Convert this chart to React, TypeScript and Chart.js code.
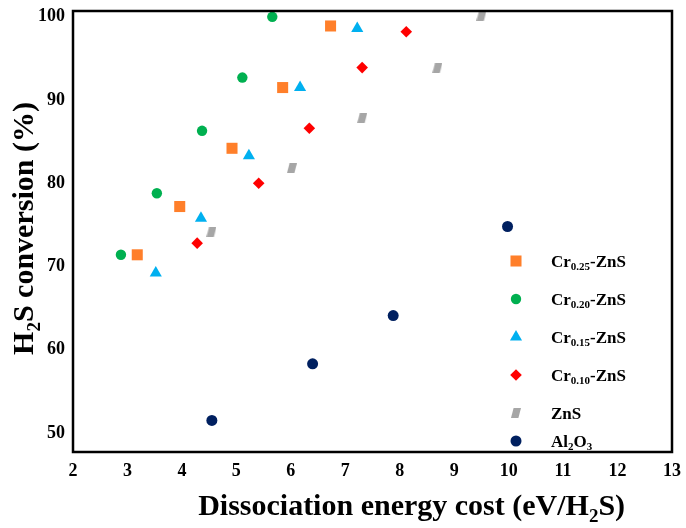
import React, { useEffect, useRef } from 'react';
import { Chart, registerables } from 'chart.js';
import { drawPoint } from 'chart.js/helpers';

Chart.register(...registerables);

// ---- data ----
const xTicks = [2, 3, 4, 5, 6, 7, 8, 9, 10, 11, 12, 13];
const yTicks = [50, 60, 70, 80, 90, 100];

const seriesLabels = ['Cr_{0.25}-ZnS', 'Cr_{0.20}-ZnS', 'Cr_{0.15}-ZnS', 'Cr_{0.10}-ZnS', 'ZnS', 'Al_{2}O_{3}'];

const cr025X = [3.18, 3.96, 4.92, 5.85, 6.73];
const cr025Y = [71.4, 77.2, 84.2, 91.5, 98.9];
const cr020X = [2.88, 3.54, 4.37, 5.11, 5.66];
const cr020Y = [71.4, 78.8, 86.3, 92.7, 100.0];
const cr015X = [3.52, 4.35, 5.23, 6.17, 7.22];
const cr015Y = [69.2, 75.8, 83.3, 91.5, 98.6];
const cr010X = [4.28, 5.41, 6.34, 7.31, 8.12];
const cr010Y = [72.8, 80.0, 86.6, 93.9, 98.2];
const znsX = [4.54, 6.02, 7.31, 8.69, 9.5];
const znsY = [74.1, 81.8, 87.8, 93.8, 100.1];
const al2o3X = [4.55, 6.4, 7.88, 9.98];
const al2o3Y = [51.5, 58.3, 64.1, 74.8];

const FONT = '"Liberation Serif", "Times New Roman", serif';

function zip(xs: number[], ys: number[]) {
  return xs.map((x, i) => ({ x, y: ys[i] }));
}

function makeParallelogram(): HTMLCanvasElement {
  const c = document.createElement('canvas');
  c.width = 10;
  c.height = 10;
  const g = c.getContext('2d')!;
  g.fillStyle = '#A6A6A6';
  g.beginPath();
  g.moveTo(2.6, 0);
  g.lineTo(10, 0);
  g.lineTo(7.4, 10);
  g.lineTo(0, 10);
  g.closePath();
  g.fill();
  return c;
}

function parseRich(s: string) {
  const parts: { t: string; sub: boolean }[] = [];
  const re = /_\{([^}]*)\}/g;
  let last = 0;
  let m: RegExpExecArray | null;
  while ((m = re.exec(s))) {
    if (m.index > last) parts.push({ t: s.slice(last, m.index), sub: false });
    parts.push({ t: m[1], sub: true });
    last = re.lastIndex;
  }
  if (last < s.length) parts.push({ t: s.slice(last), sub: false });
  return parts;
}

function drawRich(ctx: CanvasRenderingContext2D, s: string, x: number, y: number, size: number, align: 'left' | 'center') {
  const parts = parseRich(s);
  const mainF = `bold ${size}px ${FONT}`;
  const subF = `bold ${Math.round(size * 0.62)}px ${FONT}`;
  let w = 0;
  for (const p of parts) {
    ctx.font = p.sub ? subF : mainF;
    w += ctx.measureText(p.t).width;
  }
  let cx = align === 'center' ? x - w / 2 : x;
  ctx.textAlign = 'left';
  ctx.textBaseline = 'alphabetic';
  for (const p of parts) {
    ctx.font = p.sub ? subF : mainF;
    ctx.fillText(p.t, cx, y + (p.sub ? size * 0.22 : 0));
    cx += ctx.measureText(p.t).width;
  }
}

// legend layout (row centres)
const legendRowY = [261, 299, 337, 375, 413, 441];

const decorPlugin = {
  id: 'decor',
  afterDraw(chart: any) {
    const { ctx, chartArea: a } = chart;
    ctx.save();
    // frame
    ctx.lineWidth = 2.5;
    ctx.strokeStyle = '#000';
    ctx.strokeRect(a.left, a.top, a.right - a.left, a.bottom - a.top);
    ctx.fillStyle = '#000';
    // x title
    drawRich(ctx, 'Dissociation energy cost (eV/H_{2}S)', chart.width * 0.6, 515, 30, 'center');
    // y title
    ctx.save();
    ctx.translate(33, (a.top + a.bottom) / 2 - 3);
    ctx.rotate(-Math.PI / 2);
    drawRich(ctx, 'H_{2}S conversion (%)', 0, 0, 30, 'center');
    ctx.restore();
    // legend
    const symX = a.right - 156;
    const textX = a.right - 121;
    chart.data.datasets.forEach((ds: any, i: number) => {
      const y = legendRowY[i];
      ctx.save();
      ctx.fillStyle = ds.backgroundColor;
      drawPoint(ctx, { pointStyle: ds.pointStyle, radius: ds.pointRadius, rotation: 0, borderWidth: 0 } as any, symX, y);
      ctx.restore();
      ctx.fillStyle = '#000';
      drawRich(ctx, seriesLabels[i], textX, y + 5.5, 17, 'left');
    });
    ctx.restore();
  },
};

export default function App() {
  const ref = useRef<HTMLCanvasElement>(null);
  useEffect(() => {
    if (!ref.current) return;
    const para = makeParallelogram();
    const chart = new Chart(ref.current, {
      type: 'scatter',
      data: {
        datasets: [
          { label: 'Cr0.25-ZnS', data: zip(cr025X, cr025Y), pointStyle: 'rect', pointRadius: 7.8, backgroundColor: '#FF7F2A', borderWidth: 0 },
          { label: 'Cr0.20-ZnS', data: zip(cr020X, cr020Y), pointStyle: 'circle', pointRadius: 5.2, backgroundColor: '#00B050', borderWidth: 0 },
          { label: 'Cr0.15-ZnS', data: zip(cr015X, cr015Y), pointStyle: 'triangle', pointRadius: 7, backgroundColor: '#00B0F0', borderWidth: 0 },
          { label: 'Cr0.10-ZnS', data: zip(cr010X, cr010Y), pointStyle: 'rectRot', pointRadius: 5.8, backgroundColor: '#FF0000', borderWidth: 0 },
          { label: 'ZnS', data: zip(znsX, znsY), pointStyle: para as any, pointRadius: 5, backgroundColor: '#A6A6A6', borderWidth: 0 },
          { label: 'Al2O3', data: zip(al2o3X, al2o3Y), pointStyle: 'circle', pointRadius: 5.5, backgroundColor: '#002060', borderWidth: 0 },
        ] as any,
      },
      options: {
        animation: false,
        responsive: false,
        devicePixelRatio: 1,
        layout: { padding: { top: 11, right: 14, left: 0, bottom: 0 } },
        plugins: { legend: { display: false }, tooltip: { enabled: false }, title: { display: false } },
        scales: {
          x: {
            type: 'linear',
            min: 2,
            max: 13,
            grid: { display: false, drawTicks: false },
            border: { display: false },
            afterBuildTicks: (s: any) => { s.ticks = xTicks.map((v) => ({ value: v })); },
            afterFit: (s: any) => { s.height = 76; s.paddingLeft = 0; s.paddingRight = 0; s.paddingTop = 0; s.paddingBottom = 0; },
            ticks: { padding: 9, color: '#000', font: { family: FONT, weight: 'bold', size: 18 } },
          },
          y: {
            type: 'linear',
            min: 47.7,
            max: 100.7,
            grid: { display: false, drawTicks: false },
            border: { display: false },
            afterBuildTicks: (s: any) => { s.ticks = yTicks.map((v) => ({ value: v })); },
            afterFit: (s: any) => { s.width = 73; s.paddingLeft = 0; s.paddingRight = 0; s.paddingTop = 0; s.paddingBottom = 0; },
            ticks: { padding: 8, color: '#000', font: { family: FONT, weight: 'bold', size: 18 } },
          },
        },
      } as any,
      plugins: [decorPlugin],
    });
    return () => chart.destroy();
  }, []);
  return (
    <div style={{ position: 'fixed', left: 0, top: 0, width: 686, height: 528, background: '#fff' }}>
      <canvas ref={ref} width={686} height={528} style={{ display: 'block', width: 686, height: 528 }} />
    </div>
  );
}
